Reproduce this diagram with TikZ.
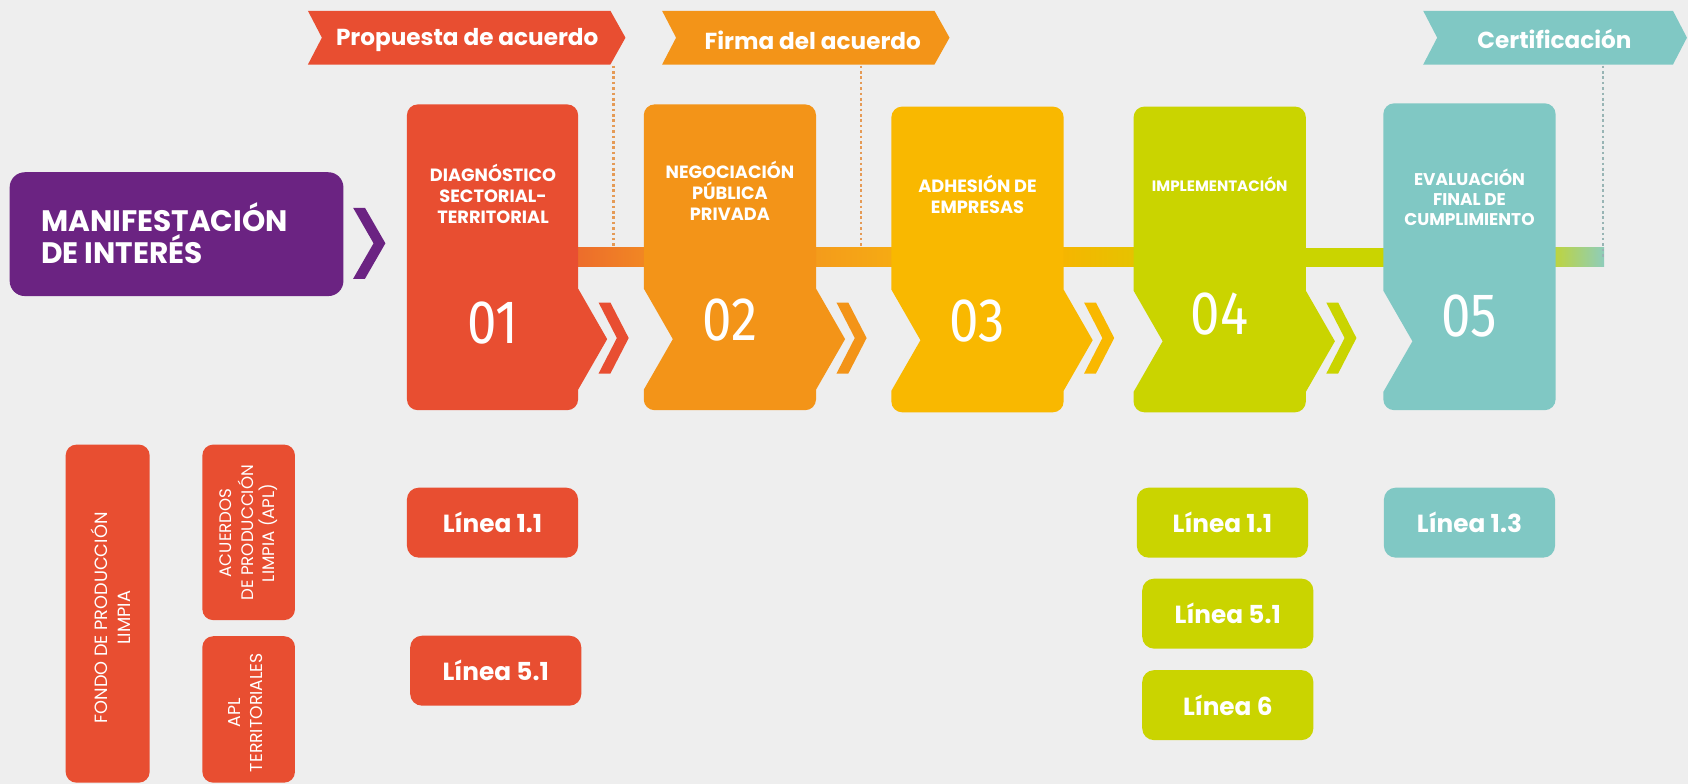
\documentclass[tikz,border=0pt]{standalone}
\usepackage{graphicx}
\usepackage{fontspec}
\setmainfont{Poppins}
\newfontfamily\numfont{Fira Sans}
\definecolor{bgc}{HTML}{EEEEEE}
\definecolor{purp}{HTML}{6B2382}
\definecolor{cred}{HTML}{E84E31}
\definecolor{corg}{HTML}{F39418}
\definecolor{cyel}{HTML}{F9B800}
\definecolor{cgrn}{HTML}{CAD400}
\definecolor{cteal}{HTML}{80C8C4}
\definecolor{dotorg}{HTML}{E59A55}
\definecolor{dotteal}{HTML}{98B4B4}
\begin{document}
\begin{tikzpicture}[x=1pt,y=-1pt,
  bannertext/.style={text=white,font=\fontsize{21.5}{24}\selectfont\bfseries,inner sep=0pt},
  steptitle/.style={text=white,font=\fontsize{16.5}{19.5}\selectfont\bfseries,align=center,inner sep=0pt},
  stepnum/.style={text=white,font=\numfont\fontsize{57}{57}\selectfont,inner sep=0pt,anchor=base},
  linebox/.style={rounded corners=11pt,text=white,font=\fontsize{23}{26}\selectfont\bfseries,minimum width=159pt,minimum height=65pt,inner sep=0pt},
  vtext/.style={rotate=90,text=white,font=\fontsize{16}{20.5}\selectfont,align=center,inner sep=0pt},
  dotline/.style={line width=2.2pt,dash pattern=on 2.4pt off 2.6pt}
]
\fill[bgc] (0,0) rectangle (1568,728);
\useasboundingbox (0,0) rectangle (1568,728);

% timeline bar pieces
\fill[left color={rgb,255:red,236;green,106;blue,44},right color={rgb,255:red,242;green,138;blue,34}] (530,230) rectangle (606,248);
\fill[left color={rgb,255:red,244;green,154;blue,28},right color={rgb,255:red,246;green,172;blue,18}] (750,230) rectangle (836,248);
\fill[left color={rgb,255:red,247;green,180;blue,0},right color={rgb,255:red,228;green,196;blue,0}] (980,230) rectangle (1061,248);
\fill[cgrn] (1205,230) rectangle (1293,248);
\fill[left color={rgb,255:red,197;green,213;blue,43},right color={rgb,255:red,142;green,205;blue,187}] (1437,230) rectangle (1490,248);

% banners
\fill[cred] (286,10) -- (567,10) -- (581,35) -- (567,60) -- (286,60) -- (299,35) -- cycle;
\node[bannertext] (b1) at (434,37) {Propuesta de acuerdo};
\fill[corg] (615,10) -- (868,10) -- (882,35) -- (868,60) -- (615,60) -- (628,35) -- cycle;
\node[bannertext] (b2) at (755,37) {Firma del acuerdo};
\fill[cteal] (1322,10) -- (1554,10) -- (1567,35) -- (1554,60) -- (1322,60) -- (1335,35) -- cycle;
\node[bannertext] (b3) at (1444,36) {Certificación};

% dotted leaders
\coordinate (d1t) at (570,61); \coordinate (d1b) at (570,230);
\coordinate (d2t) at (800,61); \coordinate (d2b) at (800,230);
\coordinate (d3t) at (1489,61); \coordinate (d3b) at (1489,240);
\draw[dotline,dotorg] (d1t) -- (d1b);
\draw[dotline,dotorg] (d2t) -- (d2b);
\draw[dotline,dotteal] (d3t) -- (d3b);

% manifestacion
\fill[purp,rounded corners=14pt] (9,160) rectangle (319,275);
\node[anchor=base west,text=white,font=\fontsize{27.5}{29}\selectfont\bfseries,inner sep=0pt] (m1) at (38,215) {MANIFESTACIÓN};
\node[anchor=base west,text=white,font=\fontsize{27.5}{29}\selectfont\bfseries,inner sep=0pt] (m2) at (38,245) {DE INTERÉS};
\fill[purp] (328,193) -- (339,193) -- (358,226) -- (339,259) -- (328,259) -- (347,226) -- cycle;

% step 01
\fill[cred] (450,97) [rounded corners=10pt] -- (537,97) [sharp corners] -- (537,268) -- (564,315) -- (537,362) [rounded corners=10pt] -- (537,381) -- (378,381) -- (378,97) -- cycle;
% step 02
\fill[corg] (680,97) [rounded corners=10pt] -- (758,97) [sharp corners] -- (758,268) -- (785,315) -- (758,362) [rounded corners=10pt] -- (758,381) -- (598,381) [sharp corners] -- (598,362) -- (625,315) -- (598,268) [rounded corners=10pt] -- (598,97) -- cycle;
% step 03
\fill[cyel] (910,99) [rounded corners=10pt] -- (988,99) [sharp corners] -- (988,269) -- (1015,316) -- (988,363) [rounded corners=10pt] -- (988,383) -- (828,383) [sharp corners] -- (828,363) -- (855,316) -- (828,269) [rounded corners=10pt] -- (828,99) -- cycle;
% step 04
\fill[cgrn] (1130,99) [rounded corners=10pt] -- (1213,99) [sharp corners] -- (1213,270) -- (1240,317) -- (1213,364) [rounded corners=10pt] -- (1213,383) -- (1053,383) [sharp corners] -- (1053,364) -- (1080,317) -- (1053,270) [rounded corners=10pt] -- (1053,99) -- cycle;
% step 05
\fill[cteal] (1360,96) [rounded corners=10pt] -- (1445,96) -- (1445,381) -- (1285,381) [sharp corners] -- (1285,364) -- (1312,317) -- (1285,270) [rounded corners=10pt] -- (1285,96) -- cycle;

% small chevrons
\foreach \xr/\cc in {537/cred,758/corg,988/cyel,1213/cgrn}{
  \fill[\cc] (\xr+19,281) -- (\xr+30,281) -- (\xr+47,314) -- (\xr+30,347) -- (\xr+19,347) -- (\xr+36,314) -- cycle;
}

% step titles
\node[steptitle] (t1) at (458,180) {DIAGNÓSTICO\\SECTORIAL-\\TERRITORIAL};
\node[steptitle] (t2) at (678,177) {NEGOCIACIÓN\\PÚBLICA\\PRIVADA};
\node[steptitle] (t3) at (908,181) {ADHESIÓN DE\\EMPRESAS};
\node[steptitle,font=\fontsize{14}{17}\selectfont\bfseries] (t4) at (1133,171) {IMPLEMENTACIÓN};
\node[steptitle,font=\fontsize{15.8}{18.5}\selectfont\bfseries] (t5) at (1365,183) {EVALUACIÓN\\FINAL DE\\CUMPLIMIENTO};

% numbers
\node[stepnum] (n1) at (458,319) {\scalebox{0.86}[1]{01}};
\node[stepnum] (n2) at (678,316) {\scalebox{0.86}[1]{02}};
\node[stepnum] (n3) at (908,317) {\scalebox{0.86}[1]{03}};
\node[stepnum] (n4) at (1133,311) {\scalebox{0.86}[1]{04}};
\node[stepnum] (n5) at (1365,313) {\scalebox{0.86}[1]{05}};

% linea boxes
\node[linebox,fill=cred] (r11) at (457.5,485.5) {Línea 1.1};
\node[linebox,fill=cred] (r51) at (460.5,623) {Línea 5.1};
\node[linebox,fill=cgrn] (g11) at (1135.5,485.5) {Línea 1.1};
\node[linebox,fill=cgrn] (g51) at (1140.5,570) {Línea 5.1};
\node[linebox,fill=cgrn] (g6) at (1140.5,655) {Línea 6};
\node[linebox,fill=cteal] (c13) at (1365,485.5) {Línea 1.3};

% vertical boxes
\fill[cred,rounded corners=10pt] (61,413) rectangle (139,727);
\node[vtext,font=\fontsize{16.5}{21}\selectfont] (f1) at (103,574) {FONDO DE PRODUCCIÓN\\LIMPIA};
\fill[cred,rounded corners=10pt] (188,413) rectangle (274,576);
\node[vtext,font=\fontsize{15.5}{20}\selectfont] (f2) at (231,495) {ACUERDOS\\DE PRODUCCIÓN\\LIMPIA (APL)};
\fill[cred,rounded corners=10pt] (188,591) rectangle (274,727);
\node[vtext] (f3) at (228,662) {APL\\TERRITORIALES};
\end{tikzpicture}
\end{document}
